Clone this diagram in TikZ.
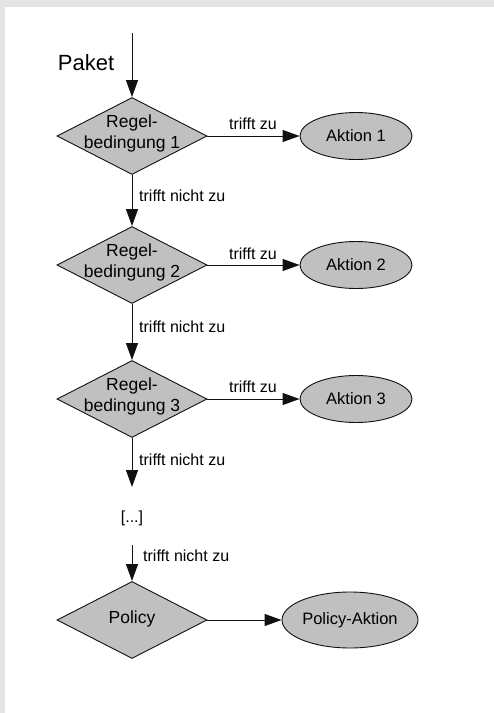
\documentclass[tikz,border=0pt]{standalone}
\usepackage{fontspec}
\setmainfont{Liberation Sans}
\usetikzlibrary{shapes.geometric,arrows.meta}
\definecolor{nodefill}{HTML}{C0C0C0}
\definecolor{bgband}{HTML}{E4E4E4}
\definecolor{edge}{HTML}{111111}
\begin{document}
\begin{tikzpicture}[x=1pt,y=-1pt,
  cond/.style={diamond, draw=edge, fill=nodefill, line width=0.9pt, minimum width=150pt, minimum height=77pt, inner sep=0pt},
  act/.style={ellipse, draw=edge, fill=nodefill, line width=0.9pt, inner sep=0pt, font=\fontsize{16.5}{20}\selectfont},
  ctext/.style={align=center, font=\fontsize{17.5}{21}\selectfont, inner sep=0pt},
  lbl/.style={font=\fontsize{16}{18}\selectfont, inner sep=0pt},
  arr/.style={-{Triangle[length=17pt,width=12pt]}, line width=1pt, draw=edge},
]
\fill[bgband] (0,0) rectangle (494,713);
\fill[white] (5,7) rectangle (494,713);
\useasboundingbox (0,0) rectangle (494,713);

% start
\coordinate (start) at (132,33);
\node[font=\fontsize{22}{26}\selectfont, inner sep=0pt] (paket) at (86,63) {Paket};

% conditions
\node[cond] (d1) at (132,136) {};
\node[ctext] (t1) at (132,133) {Regel-\\bedingung 1};
\node[cond] (d2) at (132,265) {};
\node[ctext] (t2) at (132,262) {Regel-\\bedingung 2};
\node[cond] (d3) at (132,399) {};
\node[ctext] (t3) at (132,396) {Regel-\\bedingung 3};
\node[cond] (d4) at (132,620) {};
\node[ctext] (t4) at (132,619) {Policy};

% actions
\node[act, minimum width=112pt, minimum height=47pt] (a1) at (356,136) {Aktion 1};
\node[act, minimum width=112pt, minimum height=47pt] (a2) at (356,265) {Aktion 2};
\node[act, minimum width=112pt, minimum height=47pt] (a3) at (356,399) {Aktion 3};
\node[act, minimum width=136pt, minimum height=56pt] (a4) at (350,620) {Policy-Aktion};

% ellipsis
\coordinate (end3) at (132,487);
\node[lbl] (dots) at (132,518) {[...]};
\coordinate (start4) at (132,545);

% arrows
\draw[arr] (start) -- (d1.north);
\draw[arr] (d1.east) -- (a1.west);
\draw[arr] (d2.east) -- (a2.west);
\draw[arr] (d3.east) -- (a3.west);
\draw[arr] (d4.east) -- (a4.west);
\draw[arr] (d1.south) -- (d2.north);
\draw[arr] (d2.south) -- (d3.north);
\draw[arr] (d3.south) -- (end3);
\draw[arr] (start4) -- (d4.north);

% labels
\node[lbl] (y1) at (253,124) {trifft zu};
\node[lbl] (y2) at (253,254) {trifft zu};
\node[lbl] (y3) at (253,387) {trifft zu};
\node[lbl, anchor=west] (n1) at (139,196) {trifft nicht zu};
\node[lbl, anchor=west] (n2) at (139,327) {trifft nicht zu};
\node[lbl, anchor=west] (n3) at (139,460) {trifft nicht zu};
\node[lbl, anchor=west] (n4) at (143,556) {trifft nicht zu};
\end{tikzpicture}
\end{document}
